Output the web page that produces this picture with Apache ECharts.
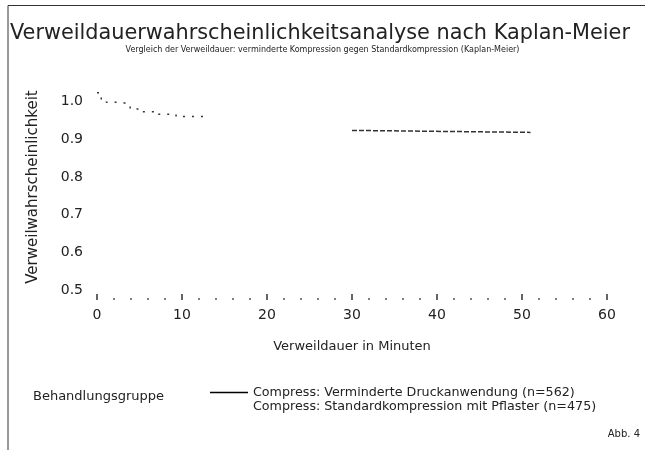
<!DOCTYPE html>
<html>
<head>
<meta charset="utf-8">
<script src="https://cdn.jsdelivr.net/npm/echarts@6/dist/echarts.min.js"></script>
<style>html,body{margin:0;padding:0;background:#fff}#c{width:645px;height:450px}</style>
</head>
<body>
<div id="c"></div>
<script>
var titleText = 'Verweildauerwahrscheinlichkeitsanalyse nach Kaplan-Meier';
var subtitleText = 'Vergleich der Verweildauer: verminderte Kompression gegen Standardkompression (Kaplan-Meier)';
var xAxisTitle = 'Verweildauer in Minuten';
var yAxisTitle = 'Verweilwahrscheinlichkeit';
var legendTitle = 'Behandlungsgruppe';
var seriesNames = ['Compress: Verminderte Druckanwendung (n=562)', 'Compress: Standardkompression mit Pflaster (n=475)'];
var footnote = 'Abb. 4';
var xTicks = [0, 10, 20, 30, 40, 50, 60];
var yTicks = [0.5, 0.6, 0.7, 0.8, 0.9, 1.0];

var timeA = [0, 0.5, 1.1, 2.8, 3.9, 5.2, 7.0, 9.3, 12.7];
var survA = [1.0, 0.981, 0.975, 0.97, 0.957, 0.95, 0.943, 0.937, 0.93];
var timeB = [30, 31, 51];
var survB = [0.9, 0.895, 0.895];

function pairs(t, s) { return t.map(function (v, i) { return [v, s[i]]; }); }

var chart = echarts.init(document.getElementById('c'), null, {renderer: 'canvas'});
var textColor = '#222';
chart.setOption({
  backgroundColor: '#fff',
  animation: false,
  title: [
    {text: titleText, left: 5, top: 18, textStyle: {fontFamily: 'DejaVu Sans', fontSize: 20.8, fontWeight: 'normal', color: textColor}},
    {text: subtitleText, left: 'center', top: 41, textStyle: {fontFamily: 'DejaVu Sans', fontSize: 8, fontWeight: 'normal', color: textColor}}
  ],
  grid: {left: 97, right: 38, top: 74, bottom: 150},
  xAxis: {
    type: 'value', min: 0, max: 60, interval: 10,
    name: xAxisTitle, nameLocation: 'middle', nameGap: 40,
    nameTextStyle: {fontFamily: 'DejaVu Sans', fontSize: 13, color: textColor},
    axisLine: {show: false},
    axisTick: {show: true, inside: true, length: 6, lineStyle: {color: '#333', width: 1.5}},
    minorTick: {show: true, splitNumber: 5, length: 2, lineStyle: {color: '#555', width: 1.5}},
    splitLine: {show: false},
    axisLabel: {fontFamily: 'DejaVu Sans', fontSize: 14, color: textColor, margin: 8,
      formatter: function (v) { return xTicks.indexOf(v) >= 0 ? String(v) : ''; }}
  },
  yAxis: {
    type: 'value', min: 0.45, max: 1.05, interval: 0.05,
    name: yAxisTitle, nameLocation: 'middle', nameGap: 56,
    nameTextStyle: {fontFamily: 'DejaVu Sans', fontSize: 15, color: textColor},
    axisLine: {show: false}, axisTick: {show: false}, splitLine: {show: false},
    axisLabel: {fontFamily: 'DejaVu Sans', fontSize: 14, color: textColor, margin: 14, verticalAlign: 'top', padding: [2, 0, 0, 0],
      formatter: function (v) {
        var r = Math.round(v * 100) / 100;
        for (var i = 0; i < yTicks.length; i++) { if (Math.abs(yTicks[i] - r) < 1e-6) return r.toFixed(1); }
        return '';
      }}
  },
  legend: {
    orient: 'vertical', left: 205, top: 381, itemGap: 1, itemWidth: 38, itemHeight: 12,
    textStyle: {fontFamily: 'DejaVu Sans', fontSize: 12.7, color: textColor},
    data: [
      {name: seriesNames[0], icon: 'path://M0,5.2L38,5.2L38,6.8L0,6.8Z', itemStyle: {color: '#000'}},
      {name: seriesNames[1], icon: 'rect', itemStyle: {color: 'rgba(0,0,0,0)'}}
    ]
  },
  series: [
    {name: seriesNames[0], type: 'line', step: 'end', showSymbol: false, data: pairs(timeA, survA),
      lineStyle: {color: '#333', width: 1.5, type: [2, 7]}, itemStyle: {color: '#000'}},
    {name: seriesNames[1], type: 'line', step: 'end', showSymbol: false, data: pairs(timeB, survB),
      lineStyle: {color: '#333', width: 1.5, type: [5, 2]}, itemStyle: {color: '#333'}}
  ],
  graphic: [
    {type: 'polyline', shape: {points: [[8, 460], [8, 5.5], [660, 5.5]]}, style: {stroke: '#333', lineWidth: 1, fill: null}},
    {type: 'text', left: 33, top: 390, style: {text: legendTitle, font: '13px "DejaVu Sans"', fill: textColor}},
    {type: 'text', right: 5, top: 429, style: {text: footnote, font: '10px "DejaVu Sans"', fill: textColor}}
  ]
});
</script>
</body>
</html>
